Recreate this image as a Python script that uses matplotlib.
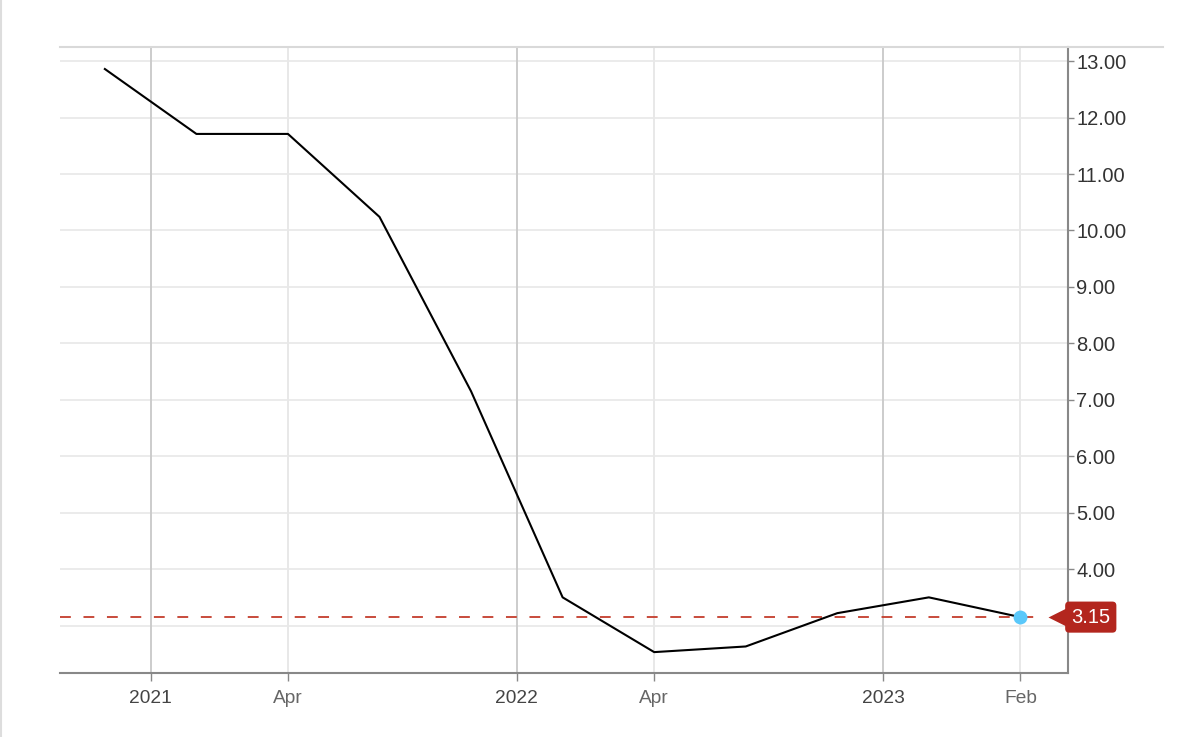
import numpy as np
import matplotlib
matplotlib.use("Agg")
import matplotlib.pyplot as plt
from matplotlib.lines import Line2D

plt.rcParams['font.family'] = ['Liberation Sans', 'DejaVu Sans']

# quarterly readings, evenly spaced on the chart
values = [12.86, 11.71, 11.71, 10.24, 7.15, 3.50, 2.53, 2.63, 3.22, 3.50, 3.15]
x = np.arange(len(values))

tick_pos = [0.5, 2, 4.5, 6, 8.5, 10]
tick_labels = ['2021', 'Apr', '2022', 'Apr', '2023', 'Feb']
year_ticks = [True, False, True, False, True, False]

y_ticks = [3, 4, 5, 6, 7, 8, 9, 10, 11, 12, 13]
last = values[-1]

fig = plt.figure(figsize=(12, 7.37), dpi=100)
ax = fig.add_axes([60/1200, 64/737, 1008/1200, 626/737])

# grid
for t in y_ticks:
    ax.axhline(t, color='#e8e8e8', lw=1.2, zorder=0)
for p, yr in zip(tick_pos, year_ticks):
    ax.axvline(p, color='#cccccc' if yr else '#e8e8e8', lw=1.4, zorder=0)

ax.plot(x, values, color='black', lw=1.5, zorder=3)
ax.hlines(last, -0.49, 10.25, color='#c43d2c', lw=1.3, linestyles=(0, (6, 7)), zorder=2)
ax.plot(x[-1], last, 'o', ms=10, color='#5ac8fa', mec='none', zorder=4)

ax.set_xlim(-0.49, 10.52)
ax.set_ylim(2.16, 13.25)

ax.yaxis.tick_right()
ax.set_yticks(y_ticks)
ax.set_yticklabels([''] + ['%.2f' % t for t in y_ticks[1:]])
ax.set_xticks(tick_pos)
ax.set_xticklabels(tick_labels)
for lab, yr in zip(ax.get_xticklabels(), year_ticks):
    lab.set_color('#444444' if yr else '#666666')

ax.tick_params(axis='y', length=4, width=1, color='#888888', labelcolor='#333333',
               labelsize=14.5, pad=2)
ax.tick_params(axis='x', length=6, width=1, color='#888888', labelsize=13.8, pad=6)

for s in ['top', 'left']:
    ax.spines[s].set_visible(False)
for s in ['bottom', 'right']:
    ax.spines[s].set_color('#888888')
    ax.spines[s].set_linewidth(1.5)

# last value badge
ax.plot(10.41, last, marker='<', ms=15, color='#b3261e', mec='none', clip_on=False, zorder=5)
ax.text(10.555, last, '%.2f' % last, color='white', fontsize=14.5, ha='left', va='center',
        clip_on=False, zorder=6,
        bbox=dict(boxstyle='round,pad=0.3,rounding_size=0.2', fc='#b3261e', ec='none'))

# top border and page edge
fig.add_artist(Line2D([60/1200, 1163/1200], [690/737, 690/737], color='#d9d9d9', lw=1.5))
fig.add_artist(Line2D([1/1200, 1/1200], [0, 1], color='#dddddd', lw=1.5))

plt.savefig('out.png', dpi=100)
